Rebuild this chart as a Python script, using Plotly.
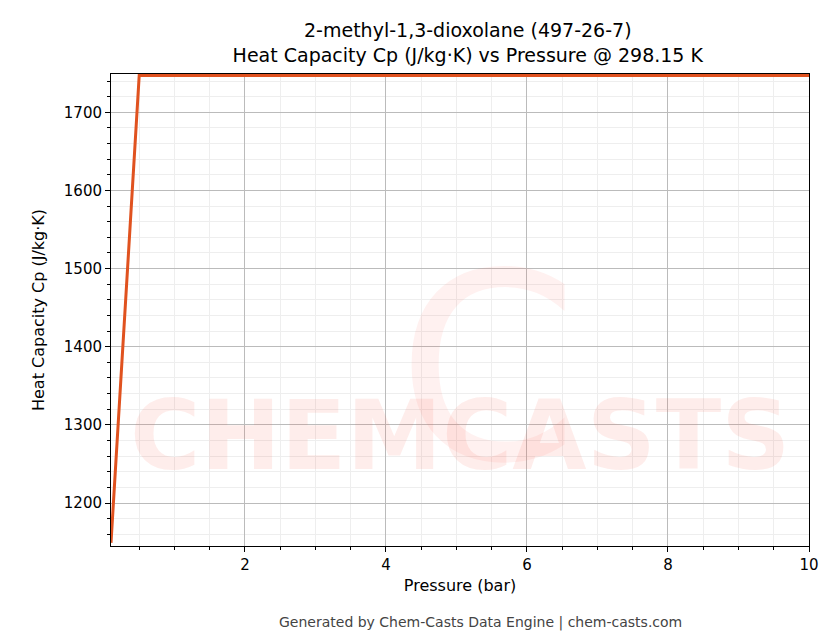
import plotly.graph_objects as go

# Cp vs pressure
pressure_bar = [0.1, 0.5, 1, 2, 3, 4, 5, 6, 7, 8, 9, 10]
cp_jkgk = [1149, 1747, 1747, 1747, 1747, 1747, 1747, 1747, 1747, 1747, 1747, 1747]

fig = go.Figure()

fig.add_trace(go.Scatter(
    x=pressure_bar, y=cp_jkgk, mode='lines',
    line=dict(color='#E0521F', width=3), showlegend=False
))

# watermark
fig.add_annotation(
    x=0.5, y=0.11, xref='paper', yref='paper', text='<b>CHEMCASTS</b>',
    showarrow=False, font=dict(size=96, color='rgba(250,80,60,0.10)', family='DejaVu Sans')
)
fig.add_annotation(
    x=0.54, y=0.7, xref='paper', yref='paper', text='C',
    showarrow=False, font=dict(size=260, color='rgba(250,80,60,0.08)', family='DejaVu Sans')
)

fig.add_annotation(
    x=0.53, y=-0.185, xref='paper', yref='paper',
    text='Generated by Chem-Casts Data Engine | chem-casts.com',
    showarrow=False, font=dict(size=14, color='#444')
)

axis_common = dict(
    showline=True, linecolor='black', linewidth=1, mirror=True,
    ticks='outside', tickcolor='black', showgrid=True, gridcolor='#bbbbbb',
    zeroline=False, tickfont=dict(size=15, color='black'),
    minor=dict(ticks='outside', ticklen=3, tickcolor='black', showgrid=True, gridcolor='#eeeeee')
)

fig.update_xaxes(range=[0.1, 10], dtick=2, tick0=0, title_text='Pressure (bar)',
                 title_font=dict(size=16), title_standoff=6, **axis_common)
fig.update_yaxes(range=[1145, 1749], dtick=100, tick0=1200,
                 title_text='Heat Capacity Cp (J/kg·K)', title_font=dict(size=16), **axis_common)
fig.update_xaxes(minor_dtick=0.5)
fig.update_yaxes(minor_dtick=20)

fig.update_layout(
    width=836, height=644,
    title=dict(text='2-methyl-1,3-dioxolane (497-26-7)<br>Heat Capacity Cp (J/kg·K) vs Pressure @ 298.15 K',
               x=0.55, xanchor='center', y=0.955, font=dict(size=19, color='black')),
    font=dict(family='DejaVu Sans', color='black'),
    plot_bgcolor='white', paper_bgcolor='white',
    margin=dict(l=103, r=35, t=66, b=106)
)

fig.write_html("out.html")
